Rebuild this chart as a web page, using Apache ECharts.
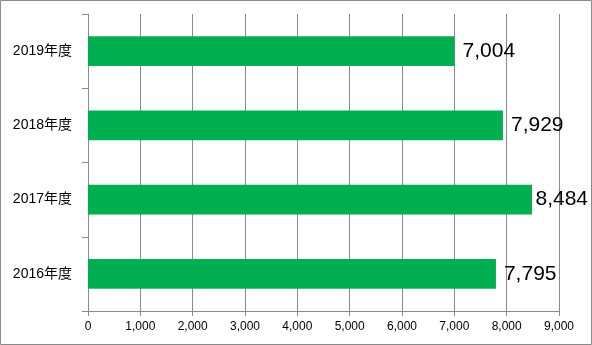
<!DOCTYPE html>
<html><head><meta charset="utf-8">
<script src="https://cdn.jsdelivr.net/npm/echarts@6/dist/echarts.min.js"></script>
<style>html,body{margin:0;padding:0;background:#fff}#c{width:592px;height:345px}</style>
</head><body><div id="c"></div>
<script>
const categories = ['2016年度', '2017年度', '2018年度', '2019年度'];
const values = [7795, 8484, 7929, 7004];
const xTicks = { min: 0, max: 9000, interval: 1000 };

const fmt = v => String(v).replace(/\B(?=(\d{3})+(?!\d))/g, ',');
const chart = echarts.init(document.getElementById('c'));
chart.setOption({
  animation: false,
  backgroundColor: '#fff',
  textStyle: { fontFamily: 'Liberation Sans, Noto Sans CJK JP, sans-serif' },
  graphic: [{ type: 'rect', shape: { x: 0.5, y: 0.5, width: 591, height: 344 }, style: { fill: 'none', stroke: '#8a8a8a', lineWidth: 1 }, z: 100 }],
  grid: { left: 88, right: 33, top: 14, bottom: 34 },
  xAxis: {
    type: 'value', min: xTicks.min, max: xTicks.max, interval: xTicks.interval,
    axisLine: { show: true, lineStyle: { color: '#8a8a8a' } },
    axisTick: { show: true, length: 5, lineStyle: { color: '#8a8a8a' } },
    splitLine: { show: true, lineStyle: { color: '#8a8a8a' } },
    axisLabel: { color: '#000', fontSize: 12, margin: 10, formatter: fmt }
  },
  yAxis: {
    type: 'category', data: categories,
    axisLine: { show: true, lineStyle: { color: '#8a8a8a' } },
    axisTick: { show: true, length: 6, lineStyle: { color: '#8a8a8a' } },
    axisLabel: { color: '#000', fontSize: 14, margin: 16 }
  },
  series: [{
    type: 'bar', data: values, barWidth: '40%',
    itemStyle: { color: '#00B050' },
    label: { show: true, position: 'right', distance: 8, fontSize: 21, color: '#000', formatter: p => fmt(p.value) },
    labelLayout: function (params) {
      const r = params.labelRect;
      if (r.x + r.width > 588) {
        return { x: 588 - r.width, y: r.y + r.height / 2, align: 'left', verticalAlign: 'middle' };
      }
      return {};
    }
  }]
});
</script></body></html>
